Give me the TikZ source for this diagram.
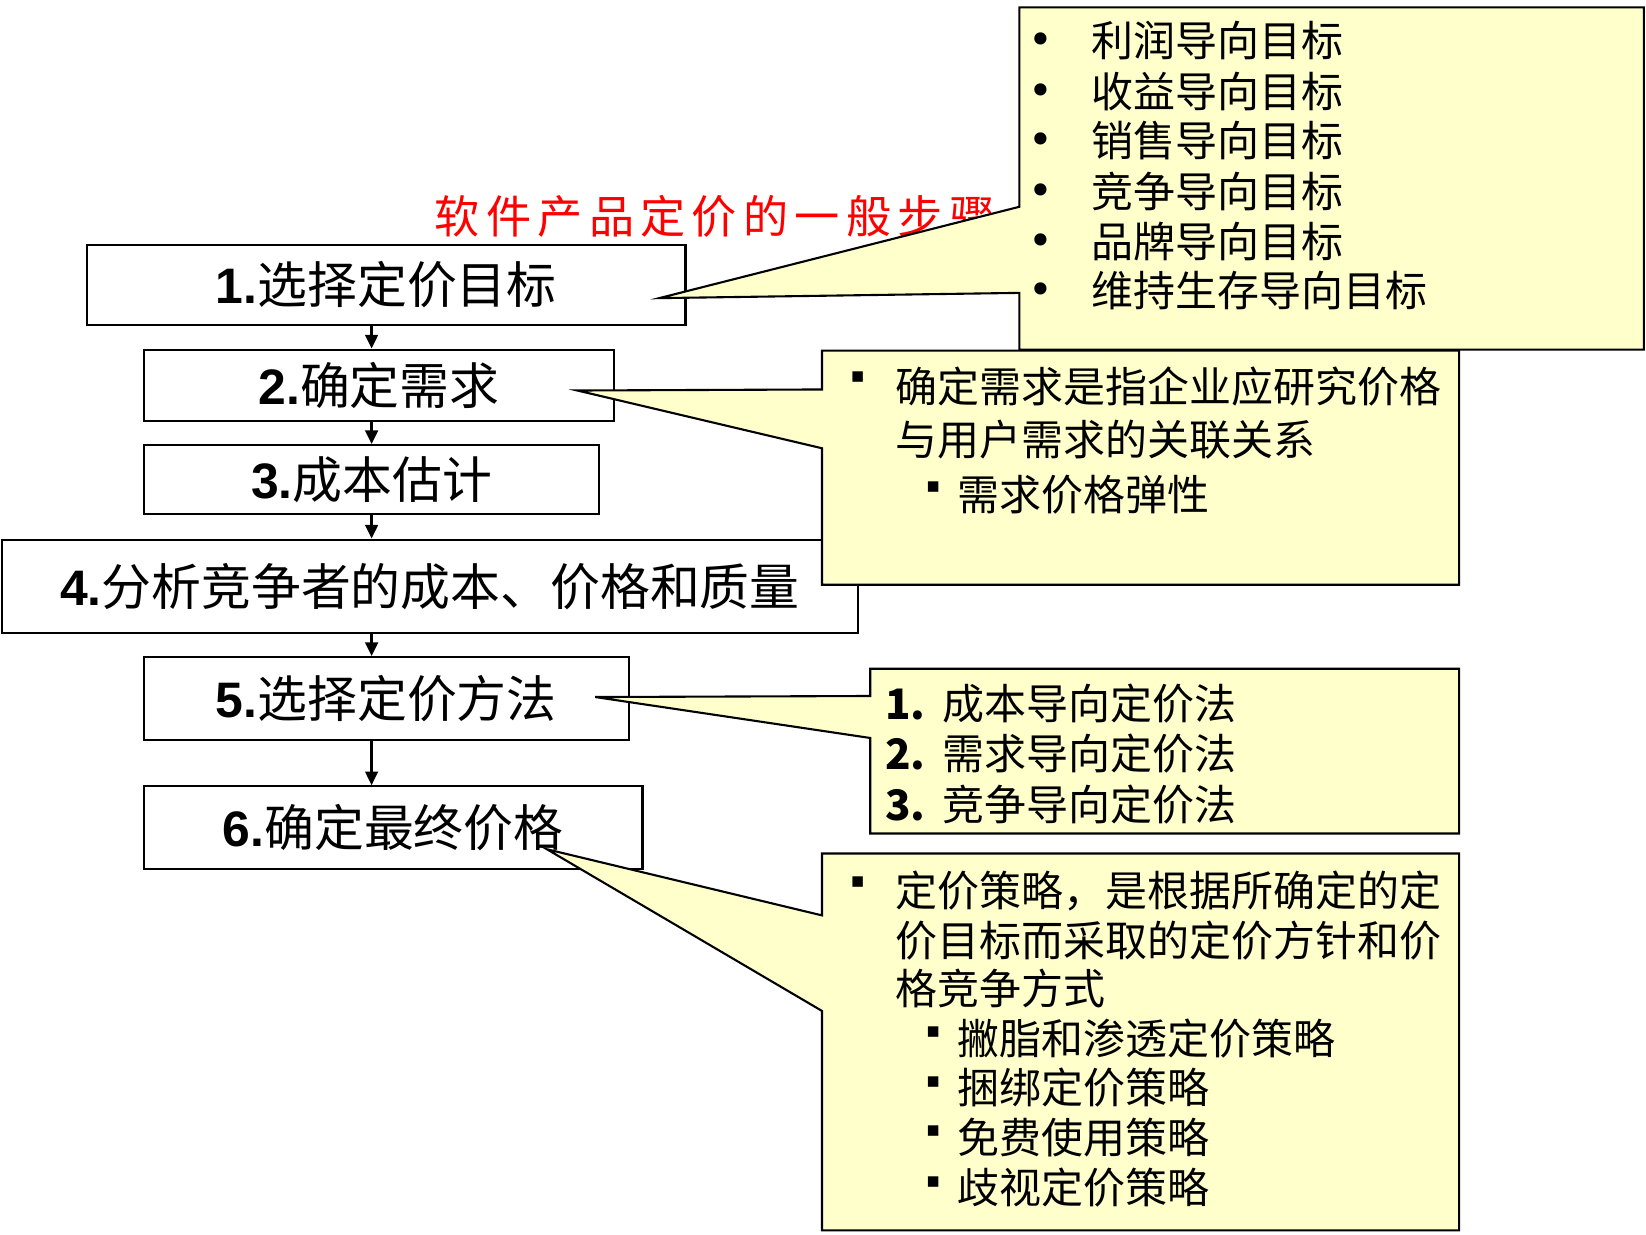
\documentclass[tikz,border=0pt]{standalone}
\usepackage{fontspec}
\setmainfont{Liberation Sans}
\newfontfamily\cjk{Noto Sans CJK SC}
\newfontfamily\symf{DejaVu Sans}
\usetikzlibrary{arrows.meta}
\definecolor{callyellow}{HTML}{FFFFCC}
\newcommand\tlch[1]{\makebox[49pt][l]{#1}}
\newcommand\nb[1]{\makebox[55pt][l]{\bfseries #1}}
\tikzset{
  stepbox/.style={draw=black, line width=2pt, inner sep=0pt, font=\fontsize{47.5}{56}\selectfont},
  callbox/.style={draw=black, line width=2pt, fill=callyellow, line join=miter},
  calltext/.style={anchor=west, inner sep=0pt, font=\fontsize{40}{48}\selectfont\cjk},
  sqbullet/.style={inner sep=0pt, font=\fontsize{20}{22}\selectfont\symf},
  dotbullet/.style={inner sep=0pt, font=\fontsize{40}{40}\selectfont\symf},
  flow/.style={line width=2.5pt, -{Triangle[length=13pt,width=12pt]}},
}
\begin{document}
\begin{tikzpicture}[x=1pt,y=-1pt]
\useasboundingbox (0,0) rectangle (1568,1176);

% title (partly hidden by the first callout)
\node[anchor=west, inner sep=0pt, text=red, font=\fontsize{43}{48}\selectfont\cjk] (title) at (414,206)
  {\tlch{软}\tlch{件}\tlch{产}\tlch{品}\tlch{定}\tlch{价}\tlch{的}\tlch{一}\tlch{般}\tlch{步}\tlch{骤}};

% step boxes
\node[stepbox, minimum width=570pt, minimum height=77pt] (s1) at (368,271.5) {\textbf{1.}{\cjk 选择定价目标}};
\node[stepbox, minimum width=448pt, minimum height=68pt] (s2) at (361,367) {\textbf{2.}{\cjk 确定需求}};
\node[stepbox, minimum width=434pt, minimum height=66pt] (s3) at (354,457) {\textbf{3.}{\cjk 成本估计}};
\node[stepbox, minimum width=815pt, minimum height=89pt] (s4) at (409.5,558.5) {\textbf{4.}{\cjk 分析竞争者的成本、价格和质量}};
\node[stepbox, minimum width=462pt, minimum height=79pt] (s5) at (368,665.5) {\textbf{5.}{\cjk 选择定价方法}};
\node[stepbox, minimum width=475pt, minimum height=79pt] (s6) at (374.5,788.5) {\textbf{6.}{\cjk 确定最终价格}};

% flow arrows
\coordinate (ax) at (354,0);
\draw[flow] (s1.south -| ax) -- (s2.north -| ax);
\draw[flow] (s2.south -| ax) -- (s3.north -| ax);
\draw[flow] (s3.south -| ax) -- (s4.north -| ax);
\draw[flow] (s4.south -| ax) -- (s5.north -| ax);
\draw[flow] (s5.south -| ax) -- (s6.north -| ax);

% callout 1
\coordinate (t1) at (628,284);
\coordinate (c1a) at (971,197);
\coordinate (c1b) at (971,279);
\draw[callbox] (971,7) -- (1566,7) -- (1566,333) -- (971,333) -- (c1b) -- (t1) -- (c1a) -- cycle;
\foreach \yy/\tx [count=\i] in {39/利润导向目标, 87/收益导向目标, 134/销售导向目标, 182/竞争导向目标, 230/品牌导向目标, 277/维持生存导向目标}{
  \node[dotbullet] (c1d\i) at (992,\yy+3) {•};
  \node[calltext] (c1l\i) at (1040,\yy) {\tx};
}

% callout 2
\coordinate (t2) at (550,372);
\coordinate (c2a) at (783,371);
\coordinate (c2b) at (783,427);
\draw[callbox] (783,334) -- (1390,334) -- (1390,557) -- (783,557) -- (c2b) -- (t2) -- (c2a) -- cycle;
\node[sqbullet] (c2b1) at (817,359) {▪};
\node[calltext] (c2l1) at (853,368) {确定需求是指企业应研究价格};
\node[calltext] (c2l2) at (853,419) {与用户需求的关联关系};
\node[sqbullet] (c2b2) at (889,464) {▪};
\node[calltext] (c2l3) at (912,471) {需求价格弹性};

% callout 3
\coordinate (t3) at (567,664);
\coordinate (c3a) at (829,663);
\coordinate (c3b) at (829,703);
\draw[callbox] (829,637) -- (1390,637) -- (1390,794) -- (829,794) -- (c3b) -- (t3) -- (c3a) -- cycle;
\node[calltext] (c3l1) at (843,670) {\nb{1.}成本导向定价法};
\node[calltext] (c3l2) at (843,718) {\nb{2.}需求导向定价法};
\node[calltext] (c3l3) at (843,766) {\nb{3.}竞争导向定价法};

% callout 4
\coordinate (t4) at (521,809);
\coordinate (c4a) at (783,872);
\coordinate (c4b) at (783,963);
\draw[callbox] (783,813) -- (1390,813) -- (1390,1172) -- (783,1172) -- (c4b) -- (t4) -- (c4a) -- cycle;
\node[sqbullet] (c4b1) at (817,840) {▪};
\node[calltext] (c4l1) at (853,849) {定价策略，是根据所确定的定};
\node[calltext] (c4l2) at (853,896) {价目标而采取的定价方针和价};
\node[calltext] (c4l3) at (853,942) {格竞争方式};
\node[sqbullet] (c4b2) at (889,983)  {▪};
\node[calltext] (c4l4) at (912,989)  {撇脂和渗透定价策略};
\node[sqbullet] (c4b3) at (889,1031) {▪};
\node[calltext] (c4l5) at (912,1036) {捆绑定价策略};
\node[sqbullet] (c4b4) at (889,1078) {▪};
\node[calltext] (c4l6) at (912,1084) {免费使用策略};
\node[sqbullet] (c4b5) at (889,1126) {▪};
\node[calltext] (c4l7) at (912,1131) {歧视定价策略};
\end{tikzpicture}
\end{document}
